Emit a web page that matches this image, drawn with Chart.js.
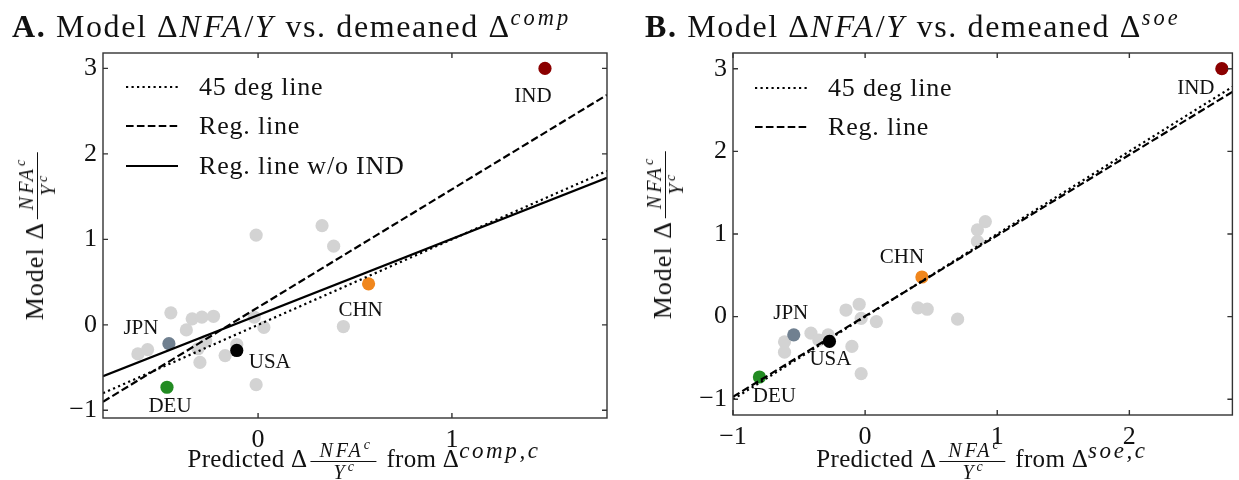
<!DOCTYPE html>
<html>
<head>
<meta charset="utf-8">
<script src="https://cdn.jsdelivr.net/npm/chart.js@4.4.1/dist/chart.umd.min.js"></script>
<style>
  html, body { margin: 0; padding: 0; background: #fff; }
  #fig { position: relative; width: 1239px; height: 480px; overflow: hidden;
         font-family: 'Liberation Serif', 'DejaVu Serif', serif; color: #111; }
  .panel { position: absolute; top: 0; height: 480px; }
  .panel canvas { position: absolute; left: 0; top: 0; }
  .title { position: absolute; top: 8px; font-size: 32px; letter-spacing: 1.6px; white-space: nowrap; }
  .title i { letter-spacing: 3px; }
  .title sup { font-size: 0.7em; letter-spacing: 1.5px; }
  .ytitle { position: absolute; font-size: 26px; letter-spacing: 1px; white-space: nowrap;
            transform: translate(-50%, -50%) rotate(-90deg); }
  .xtitle { position: absolute; font-size: 25px; letter-spacing: 0.3px; white-space: nowrap; transform: translateX(-50%); }
  .xtitle sup { font-size: 0.92em; letter-spacing: 2.6px; vertical-align: 0.36em; }
  .frac { display: inline-flex; flex-direction: column; align-items: center; vertical-align: middle;
          font-size: 20px; line-height: 1.0; letter-spacing: 3px; margin: 0 3px; }
  .frac .num { border-bottom: 1.6px solid #111; padding: 0 7px 1px 9px; }
  .frac sup { font-size: 0.7em; letter-spacing: 0; vertical-align: 0.55em; }
  sup { font-size: 0.66em; vertical-align: 0.55em; line-height: 0; }
  .legend { position: absolute; font-size: 26px; letter-spacing: 0.8px; }
  .legend .row { display: flex; align-items: center; height: 39.5px; }
  .legend svg { margin-right: 21px; }
</style>
</head>
<body>
<div id="fig">
  <div class="panel" id="panelA" style="left:0;width:620px">
    <canvas id="chartA" width="620" height="480"></canvas>
    <div class="title" style="left:12px"><b>A.</b> Model Δ<i>NFA</i>/<i>Y</i> vs. demeaned Δ<sup><i>comp</i></sup></div>
    <div class="ytitle" style="left:37px;top:235px">Model Δ<span class="frac"><span class="num"><i>NFA<sup>c</sup></i></span><span><i>Y<sup>c</sup></i></span></span></div>
    <div class="xtitle" style="left:364px;top:440px">Predicted Δ<span class="frac"><span class="num"><i>NFA<sup>c</sup></i></span><span><i>Y<sup>c</sup></i></span></span> from Δ<sup><i>comp,c</i></sup></div>
    <div class="legend" id="legendA" style="left:126px;top:67px"></div>
  </div>
  <div class="panel" id="panelB" style="left:620px;width:619px">
    <canvas id="chartB" width="619" height="480"></canvas>
    <div class="title" style="left:25px"><b>B.</b> Model Δ<i>NFA</i>/<i>Y</i> vs. demeaned Δ<sup><i>soe</i></sup></div>
    <div class="ytitle" style="left:45px;top:234px">Model Δ<span class="frac"><span class="num"><i>NFA<sup>c</sup></i></span><span><i>Y<sup>c</sup></i></span></span></div>
    <div class="xtitle" style="left:362px;top:440px">Predicted Δ<span class="frac"><span class="num"><i>NFA<sup>c</sup></i></span><span><i>Y<sup>c</sup></i></span></span> from Δ<sup><i>soe,c</i></sup></div>
    <div class="legend" id="legendB" style="left:135px;top:68px"></div>
  </div>
</div>
<script>
// highlighted economies, same order in every array below
const countries = ['IND', 'CHN', 'USA', 'JPN', 'DEU'];
const countryColors = ['#8b0000', '#f0861c', '#000000', '#708090', '#228b22'];
const modelNfa = [3.00, 0.48, -0.30, -0.22, -0.73];
const predComp = [1.48, 0.57, -0.11, -0.46, -0.47];
const predSoe = [2.70, 0.43, -0.27, -0.54, -0.80];

// remaining economies
const otherCompX = [-0.01, 0.33, 0.39, 0.44, -0.45, -0.37, -0.34, -0.29, -0.23, -0.62, -0.57,
                    -0.31, -0.30, -0.27, -0.17, -0.11, 0.03, -0.01, -0.02];
const otherCompY = [1.05, 1.16, 0.92, -0.02, 0.14, -0.06, 0.07, 0.09, 0.10, -0.34, -0.29,
                    -0.28, -0.44, -0.19, -0.36, -0.23, -0.03, -0.70, 0.09];
const otherSoeX = [-0.61, -0.61, -0.41, -0.35, -0.28, -0.145, -0.045, -0.03, 0.085, -0.10,
                   -0.03, 0.70, 0.40, 0.47, 0.85, 0.91, 0.85];
const otherSoeY = [-0.305, -0.43, -0.20, -0.285, -0.22, 0.08, 0.15, -0.02, -0.06, -0.36,
                   -0.69, -0.03, 0.107, 0.09, 1.05, 1.15, 0.91];

// reference and fitted lines, endpoints at the x limits
const compDiag = [[-0.8, -0.8], [1.8, 1.8]];
const compReg = [[-0.8, -0.90], [1.8, 2.69]];
const compRegNoInd = [[-0.8, -0.60], [1.8, 1.72]];
const soeDiag = [[-1.0, -1.0], [2.78, 2.78]];
const soeReg = [[-1.0, -0.97], [2.78, 2.72]];

const yTicks = [-1, 0, 1, 2, 3];
const compXTicks = [0, 1];
const soeXTicks = [-1, 0, 1, 2];

Chart.defaults.font.family = "'Liberation Serif', 'DejaVu Serif', serif";
Chart.defaults.color = '#111';

const DOTTED = [2.2, 3.3];
const DASHED = [7.6, 3.3];

const toPts = (xs, ys) => xs.map((x, i) => ({ x, y: ys[i] }));
const fmt = v => (v < 0 ? '\u2212' + Math.abs(v) : String(v));

// box around the plot with inward ticks on all four sides, plus country tags
const framePlugin = {
  id: 'frame',
  afterDatasetsDraw(chart, args, opts) {
    const { ctx, chartArea: a, scales } = chart;
    ctx.save();
    ctx.strokeStyle = '#333';
    ctx.lineWidth = 1.4;
    ctx.strokeRect(a.left, a.top, a.right - a.left, a.bottom - a.top);
    ctx.beginPath();
    scales.x.ticks.forEach(t => {
      const px = scales.x.getPixelForValue(t.value);
      ctx.moveTo(px, a.bottom); ctx.lineTo(px, a.bottom - 5);
      ctx.moveTo(px, a.top); ctx.lineTo(px, a.top + 5);
    });
    scales.y.ticks.forEach(t => {
      const py = scales.y.getPixelForValue(t.value);
      ctx.moveTo(a.left, py); ctx.lineTo(a.left + 5, py);
      ctx.moveTo(a.right, py); ctx.lineTo(a.right - 5, py);
    });
    ctx.stroke();

    ctx.font = "21px 'Liberation Serif', serif";
    ctx.fillStyle = '#111';
    ctx.textAlign = 'center';
    ctx.textBaseline = 'middle';
    const xs = opts.xs;
    countries.forEach((c, i) => {
      const off = opts.offsets[c];
      const px = scales.x.getPixelForValue(xs[i]);
      const py = scales.y.getPixelForValue(modelNfa[i]);
      ctx.fillText(c, px + off[0], py + off[1]);
    });
    ctx.restore();
  }
};

function lineSet(label, pts, dash, order) {
  return {
    type: 'line', label, data: pts.map(p => ({ x: p[0], y: p[1] })),
    borderColor: '#000', borderWidth: 2.2, borderDash: dash, borderCapStyle: 'butt',
    pointRadius: 0, fill: false, order
  };
}

function makePanel(id, cfg) {
  const datasets = [
    ...cfg.lines.map((l, i) => lineSet(l.label, l.pts, l.dash, i)),
    {
      label: 'highlighted', data: toPts(cfg.hx, modelNfa),
      backgroundColor: countryColors, pointRadius: 6.6, borderWidth: 0, order: 10
    },
    {
      label: 'other', data: toPts(cfg.ox, cfg.oy),
      backgroundColor: '#d3d3d3', pointRadius: 6.6, borderWidth: 0, order: 11
    }
  ];
  const chart = new Chart(document.getElementById(id), {
    type: 'scatter',
    data: { datasets },
    options: {
      responsive: false,
      animation: false,
      layout: { padding: { top: 53, right: cfg.padRight, left: 0, bottom: 0 } },
      scales: {
        x: {
          type: 'linear', min: cfg.xMin, max: cfg.xMax,
          afterBuildTicks: s => { s.ticks = cfg.xTicks.map(v => ({ value: v })); },
          afterFit: s => { s.height = cfg.xAxisH; },
          grid: { display: false, drawTicks: false },
          border: { display: false },
          ticks: { padding: 7, font: { size: 26 }, color: '#111', callback: fmt, maxRotation: 0, autoSkip: false }
        },
        y: {
          type: 'linear', min: cfg.yMin, max: cfg.yMax,
          afterBuildTicks: s => { s.ticks = yTicks.map(v => ({ value: v })); },
          afterFit: s => { s.width = cfg.yAxisW; },
          grid: { display: false, drawTicks: false },
          border: { display: false },
          ticks: { padding: 6, font: { size: 26 }, color: '#111', callback: fmt, autoSkip: false }
        }
      },
      plugins: {
        legend: { display: false },
        tooltip: { enabled: false },
        frame: { xs: cfg.hx, offsets: cfg.offsets }
      }
    },
    plugins: [framePlugin]
  });

  // legend built from the line datasets
  const box = document.getElementById(cfg.legendId);
  cfg.lines.forEach(l => {
    const row = document.createElement('div');
    row.className = 'row';
    row.innerHTML = '<svg width="52" height="10"><line x1="0" y1="5" x2="52" y2="5" stroke="#000" ' +
      'stroke-width="2.2" stroke-dasharray="' + (l.dash.length ? l.dash.join(',') : 'none') + '"/></svg>' +
      '<span>' + l.label + '</span>';
    box.appendChild(row);
  });
  return chart;
}

makePanel('chartA', {
  legendId: 'legendA',
  xMin: -0.8, xMax: 1.8, yMin: -1.09, yMax: 3.18,
  xTicks: compXTicks, yAxisW: 103, xAxisH: 62, padRight: 13,
  hx: predComp, ox: otherCompX, oy: otherCompY,
  lines: [
    { label: '45 deg line', pts: compDiag, dash: DOTTED },
    { label: 'Reg. line', pts: compReg, dash: DASHED },
    { label: 'Reg. line w/o IND', pts: compRegNoInd, dash: [] }
  ],
  offsets: { IND: [-12, 28], CHN: [-8, 27], USA: [33, 12], JPN: [-28, -15], DEU: [3, 19] }
});

makePanel('chartB', {
  legendId: 'legendB',
  xMin: -1.0, xMax: 2.78, yMin: -1.19, yMax: 3.19,
  xTicks: soeXTicks, yAxisW: 113, xAxisH: 65, padRight: 2,
  hx: predSoe, ox: otherSoeX, oy: otherSoeY,
  lines: [
    { label: '45 deg line', pts: soeDiag, dash: DOTTED },
    { label: 'Reg. line', pts: soeReg, dash: DASHED }
  ],
  offsets: { IND: [-26, 20], CHN: [-20, -19], USA: [1, 18], JPN: [-3, -21], DEU: [15, 20] }
});
</script>
</body>
</html>
